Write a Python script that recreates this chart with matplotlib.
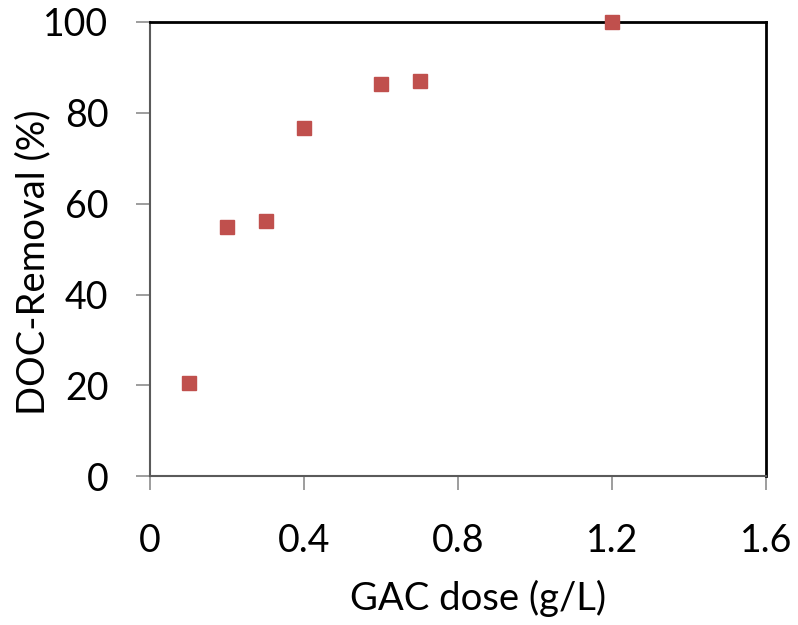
import matplotlib.pyplot as plt
import numpy as np

# GAC dose vs DOC removal
gac_dose = [0.1, 0.2, 0.3, 0.4, 0.6, 0.7, 1.2]
doc_removal = [20.5, 54.9, 56.1, 76.7, 86.3, 87.0, 100.0]

x_ticks = [0, 0.4, 0.8, 1.2, 1.6]
y_ticks = [0, 20, 40, 60, 80, 100]

plt.rcParams['font.family'] = ['Lato', 'DejaVu Sans']

fig = plt.figure(figsize=(7.98, 6.25), dpi=100)
ax = fig.add_axes([0.188, 0.238, 0.772, 0.727])

ax.plot(gac_dose, doc_removal, linestyle='none', marker='s',
        markersize=9.5, color='#C0504D', clip_on=False, zorder=3)

ax.set_xlim(0, 1.6)
ax.set_ylim(0, 100)
ax.set_xticks(x_ticks)
ax.set_xticklabels(['0', '0.4', '0.8', '1.2', '1.6'])
ax.set_yticks(y_ticks)

ax.tick_params(axis='both', direction='out', length=10, width=1.2,
               color='#8c8c8c', labelsize=27)
ax.tick_params(axis='x', pad=24)
ax.tick_params(axis='y', pad=20)

for side in ['left', 'bottom']:
    ax.spines[side].set_color('#5a5a5a')
    ax.spines[side].set_linewidth(1.5)
for side in ['top', 'right']:
    ax.spines[side].set_color('black')
    ax.spines[side].set_linewidth(2)

ax.set_xlabel('GAC dose (g/L)', fontsize=27.5)
ax.set_ylabel('DOC-Removal (%)', fontsize=27.5)
ax.xaxis.set_label_coords(0.532, -0.228)
ax.yaxis.set_label_coords(-0.16, 0.471)

fig.savefig('out.png', dpi=100)
